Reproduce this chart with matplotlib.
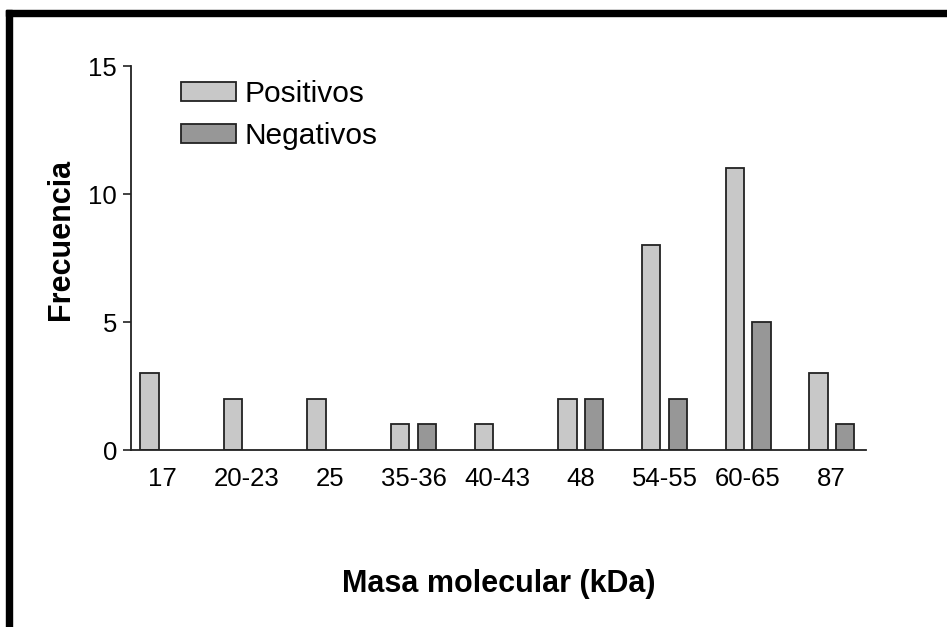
import matplotlib
matplotlib.use("Agg")
import matplotlib.pyplot as plt
import matplotlib.patches as patches
import numpy as np

categories = ["17", "20-23", "25", "35-36", "40-43", "48", "54-55", "60-65", "87"]
positivos = [3, 2, 2, 1, 1, 2, 8, 11, 3]
negativos = [0, 0, 0, 1, 0, 2, 2, 5, 1]
yticks = [0, 5, 10, 15]

plt.rcParams["font.family"] = ["Liberation Sans", "DejaVu Sans"]

W, H = 947, 627
fig = plt.figure(figsize=(W / 100, H / 100), dpi=100)
ax = fig.add_axes([131 / W, 1 - 450 / H, 735 / W, 384 / H])

x = np.arange(len(categories))
w, off = 0.22, 0.16
edge = "#222222"

# skip empty bars so no flat outline sits on the axis
pos_idx = [i for i, v in enumerate(positivos) if v > 0]
neg_idx = [i for i, v in enumerate(negativos) if v > 0]
ax.bar(x[pos_idx] - off, [positivos[i] for i in pos_idx], w,
       color="#c8c8c8", edgecolor=edge, linewidth=1.3, label="Positivos")
ax.bar(x[neg_idx] + off, [negativos[i] for i in neg_idx], w,
       color="#979797", edgecolor=edge, linewidth=1.3, label="Negativos")

ax.set_xlim(-0.38, len(categories) - 1 + 0.41)
ax.set_ylim(0, 15)
ax.set_yticks(yticks)
ax.set_xticks(x)
ax.set_xticklabels(categories)
ax.tick_params(axis="y", length=6, width=1.2, color=edge, labelsize=18.5, pad=4)
ax.tick_params(axis="x", length=0, labelsize=18.5, pad=12)

for s in ["top", "right"]:
    ax.spines[s].set_visible(False)
for s in ["left", "bottom"]:
    ax.spines[s].set_color(edge)
    ax.spines[s].set_linewidth(1.3)

fig.text(76 / W, 1 - 239 / H, "Frecuencia", rotation=90, fontsize=22,
         fontweight="bold", ha="right", va="center")
fig.text(499 / W, 1 - 592 / H, "Masa molecular (kDa)", fontsize=22,
         fontweight="bold", ha="center", va="baseline")

ax.legend(loc="upper left", bbox_to_anchor=(181 / W, 1 - 80 / H),
          bbox_transform=fig.transFigure, frameon=False, fontsize=21.5,
          handlelength=1.85, handleheight=0.62, handletextpad=0.28,
          labelspacing=0.48, borderpad=0, borderaxespad=0)

# black frame (top and left only)
fig.add_artist(patches.Rectangle((6 / W, 0), 6 / W, 1 - 10 / H,
                                 transform=fig.transFigure, color="black"))
fig.add_artist(patches.Rectangle((6 / W, 1 - 16 / H), 1, 6 / H,
                                 transform=fig.transFigure, color="black"))

fig.savefig("out.png", dpi=100)
